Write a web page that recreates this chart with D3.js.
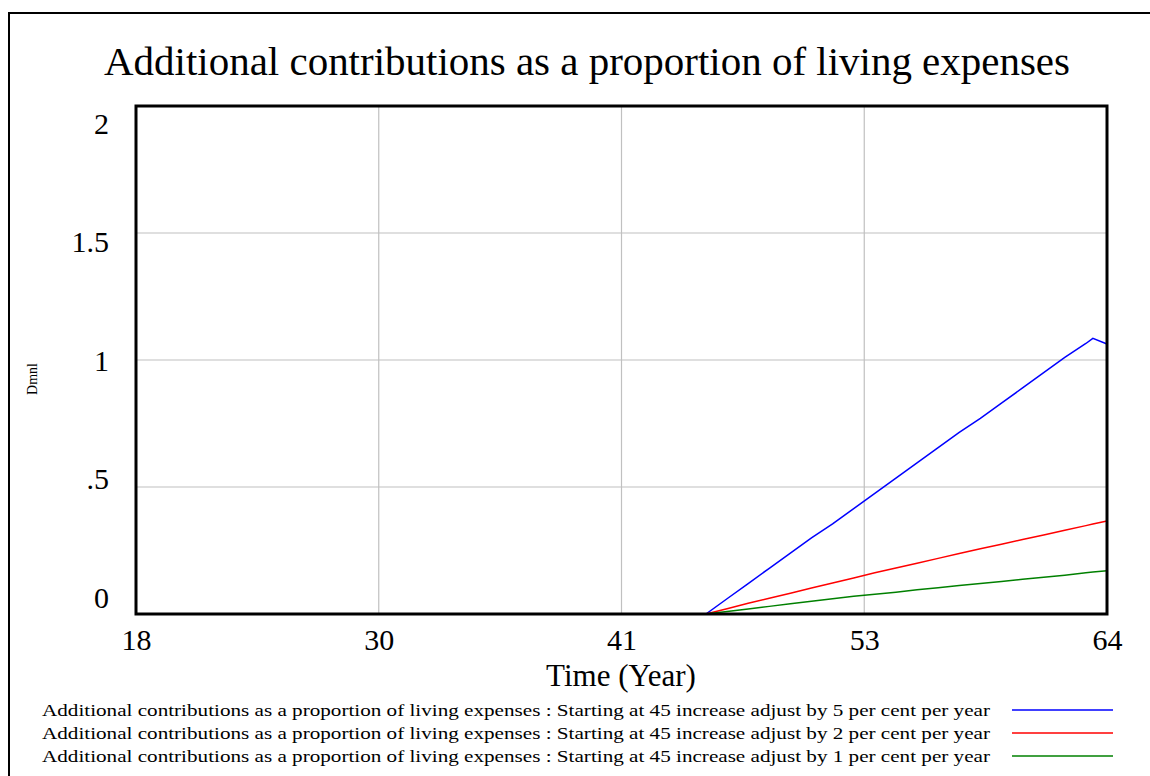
<!DOCTYPE html>
<html>
<head>
<meta charset="utf-8">
<script src="https://cdn.jsdelivr.net/npm/d3@7"></script>
<style>
  body { margin: 0; background: #fff; }
  text { font-family: "Liberation Serif", "Times New Roman", serif; fill: #000; }
</style>
</head>
<body>
<div id="chart"></div>
<script>
// years with values (zero before 45)
const years = [18, 45, 46, 47, 48, 49, 50, 51, 52, 53, 54, 55, 56, 57, 58, 59, 60, 61, 62, 63, 63.33, 64];
const blue5 = [0, 0, 0.06, 0.12, 0.18, 0.24, 0.30, 0.355, 0.415, 0.475, 0.535, 0.595, 0.655, 0.715, 0.77, 0.83, 0.89, 0.95, 1.01, 1.065, 1.085, 1.063];
const red2 = [0, 0, 0.021, 0.042, 0.062, 0.082, 0.102, 0.122, 0.142, 0.162, 0.181, 0.2, 0.219, 0.238, 0.257, 0.275, 0.293, 0.311, 0.33, 0.348, 0.354, 0.366];
const green1 = [0, 0, 0.01, 0.02, 0.03, 0.04, 0.05, 0.06, 0.07, 0.078, 0.086, 0.095, 0.103, 0.112, 0.12, 0.128, 0.137, 0.145, 0.153, 0.162, 0.165, 0.17];

const xTicks = [18, 29.5, 41, 52.5, 64];
const xTickLabels = ["18", "30", "41", "53", "64"];
const yTicks = [0, 0.5, 1, 1.5, 2];
const yTickLabels = ["0", ".5", "1", "1.5", "2"];

const seriesNames = [
  "Additional contributions as a proportion of living expenses : Starting at 45 increase adjust by 5 per cent per year",
  "Additional contributions as a proportion of living expenses : Starting at 45 increase adjust by 2 per cent per year",
  "Additional contributions as a proportion of living expenses : Starting at 45 increase adjust by 1 per cent per year"
];
const seriesColors = ["#0000ff", "#ff0000", "#008000"];
const seriesValues = [blue5, red2, green1];

const W = 1150, H = 776;
const margin = { top: 106, right: 43, bottom: 162, left: 136 },
  width = W - margin.left - margin.right,
  height = H - margin.top - margin.bottom;

const root = d3.select("#chart")
  .append("svg")
  .attr("width", W)
  .attr("height", H);

// outer frame
root.append("rect")
  .attr("x", 9).attr("y", 13)
  .attr("width", W + 20).attr("height", H + 20)
  .attr("fill", "none")
  .attr("stroke", "#000")
  .attr("stroke-width", 2);

// title
root.append("text")
  .attr("x", 104)
  .attr("y", 75)
  .attr("textLength", 966)
  .attr("lengthAdjust", "spacingAndGlyphs")
  .style("font-size", "41px")
  .text("Additional contributions as a proportion of living expenses");

const svg = root.append("g")
  .attr("transform", `translate(${margin.left},${margin.top})`);

const x = d3.scaleLinear().domain([18, 64]).range([0, width]);
const y = d3.scaleLinear().domain([0, 2]).range([height, 0]);
// tick labels sit spread inside the frame, not centred on the gridlines
const yLabel = d3.scaleLinear().domain([0, 2]).range([height - 7, 27]);

// grid
svg.append("g")
  .selectAll("line.vgrid")
  .data(xTicks)
  .join("line")
  .attr("x1", d => x(d)).attr("x2", d => x(d))
  .attr("y1", 0).attr("y2", height)
  .attr("stroke", "#c0c0c0").attr("stroke-width", 1.2);

svg.append("g")
  .selectAll("line.hgrid")
  .data(yTicks)
  .join("line")
  .attr("x1", 0).attr("x2", width)
  .attr("y1", d => y(d)).attr("y2", d => y(d))
  .attr("stroke", "#c0c0c0").attr("stroke-width", 1.2);

// axes (labels only)
const xAxis = svg.append("g")
  .attr("transform", `translate(0,${height})`)
  .call(d3.axisBottom(x).tickValues(xTicks).tickSize(0).tickPadding(0)
    .tickFormat((d, i) => xTickLabels[i]));
xAxis.select(".domain").remove();
xAxis.selectAll("text")
  .attr("dy", null)
  .attr("y", 36)
  .style("font-size", "30px")
  .style("font-family", "'Liberation Serif', serif");

const yAxis = svg.append("g")
  .call(d3.axisLeft(yLabel).tickValues(yTicks).tickSize(0).tickPadding(27)
    .tickFormat((d, i) => yTickLabels[i]));
yAxis.select(".domain").remove();
yAxis.selectAll("text")
  .attr("dy", "0")
  .style("font-size", "30px")
  .style("font-family", "'Liberation Serif', serif");

// axis titles
root.append("text")
  .attr("x", 621)
  .attr("y", 686)
  .attr("text-anchor", "middle")
  .style("font-size", "31px")
  .text("Time (Year)");

root.append("text")
  .attr("transform", "translate(37,379) rotate(-90)")
  .attr("text-anchor", "middle")
  .style("font-size", "14px")
  .text("Dmnl");

// lines
const line = d3.line()
  .x((d, i) => x(years[i]))
  .y(d => y(d));

svg.selectAll("path.series")
  .data(seriesValues)
  .join("path")
  .attr("fill", "none")
  .attr("stroke", (d, i) => seriesColors[i])
  .attr("stroke-width", 1.5)
  .attr("d", line);

// plot frame
svg.append("rect")
  .attr("x", 0).attr("y", 0)
  .attr("width", width).attr("height", height)
  .attr("fill", "none")
  .attr("stroke", "#000")
  .attr("stroke-width", 3);

// legend
const legend = root.append("g");
legend.selectAll("text")
  .data(seriesNames)
  .join("text")
  .attr("x", 42)
  .attr("y", (d, i) => 716 + i * 23)
  .attr("textLength", 948)
  .attr("lengthAdjust", "spacingAndGlyphs")
  .style("font-size", "17px")
  .text(d => d);

legend.selectAll("line")
  .data(seriesColors)
  .join("line")
  .attr("x1", 1012).attr("x2", 1113)
  .attr("y1", (d, i) => 710 + i * 23)
  .attr("y2", (d, i) => 710 + i * 23)
  .attr("stroke", d => d)
  .attr("stroke-width", 1.5);
</script>
</body>
</html>
